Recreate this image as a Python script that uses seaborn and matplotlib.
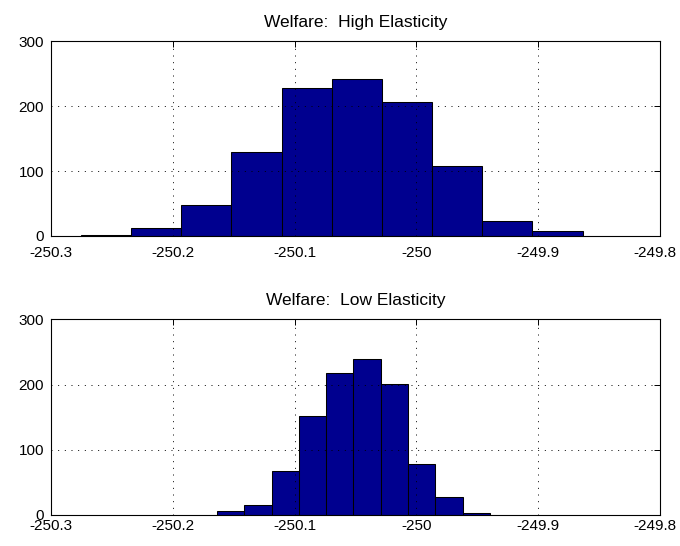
import numpy as np
import pandas as pd
import matplotlib
matplotlib.use("Agg")
import matplotlib.pyplot as plt
import matplotlib.transforms as mtransforms
import seaborn as sns

# ---- data ----
titles = ["Welfare:  High Elasticity", "Welfare:  Low Elasticity"]
high_range = [-250.2754, -249.8635]
high_counts = [2, 12, 48, 129, 227, 242, 206, 107, 23, 8]
low_range = [-250.1637, -249.9396]
low_counts = [6, 15, 68, 152, 218, 239, 201, 78, 28, 3]
xticks = [-250.3, -250.2, -250.1, -250.0, -249.9, -249.8]
xticklabels = ["-250.3", "-250.2", "-250.1", "-250", "-249.9", "-249.8"]
yticks = [0, 100, 200, 300]

sns.set_style("white")
plt.rcParams["font.family"] = ["Liberation Sans", "DejaVu Sans"]
plt.rcParams["lines.scale_dashes"] = False
plt.rcParams["text.color"] = "black"

fig = plt.figure(figsize=(6.8, 5.46), dpi=100)
ax_top = fig.add_axes([0.075, 0.5678, 0.8956, 0.357])
ax_bot = fig.add_axes([0.075, 0.0568, 0.8956, 0.3584])

panels = [
    (ax_top, high_range, high_counts, titles[0], 7.0),
    (ax_bot, low_range, low_counts, titles[1], 3.0),
]

for ax, rng, counts, title, xpad in panels:
    n = len(counts)
    edges = np.linspace(rng[0], rng[1], n + 1)
    centers = (edges[:-1] + edges[1:]) / 2
    df = pd.DataFrame({"value": centers, "count": counts})
    sns.histplot(data=df, x="value", weights="count", bins=list(edges), ax=ax,
                 color=(0, 0, 0.5625), edgecolor="black", linewidth=0.75,
                 alpha=1.0, stat="count")
    ax.set_xlim(xticks[0], xticks[-1])
    ax.set_ylim(yticks[0], yticks[-1])
    ax.set_xticks(xticks)
    ax.set_xticklabels(xticklabels)
    ax.set_yticks(yticks)
    ax.set_xlabel("")
    ax.set_ylabel("")
    ax.set_axisbelow(False)
    ax.grid(True, color="black", linestyle=(0, (0.7, 4.1)), linewidth=0.7)
    for g in ax.get_xgridlines() + ax.get_ygridlines():
        g.set_zorder(0.5)
    for p in ax.patches:
        p.set_zorder(2)
    for s in ax.spines.values():
        s.set_visible(True)
        s.set_color("black")
        s.set_linewidth(0.8)
        s.set_zorder(3)
    ax.tick_params(axis="both", direction="in", length=4, width=0.7,
                   top=True, right=True, labelsize=11, colors="black")
    ax.tick_params(axis="x", pad=xpad)
    ax.tick_params(axis="y", pad=5)
    ax.set_title(title, fontsize=12.5, pad=10, color="black")
    last = ax.get_xticklabels()[-1]
    last.set_transform(last.get_transform() +
                       mtransforms.ScaledTranslation(-5 / 100, 0, fig.dpi_scale_trans))

fig.savefig("out.png", dpi=100)
